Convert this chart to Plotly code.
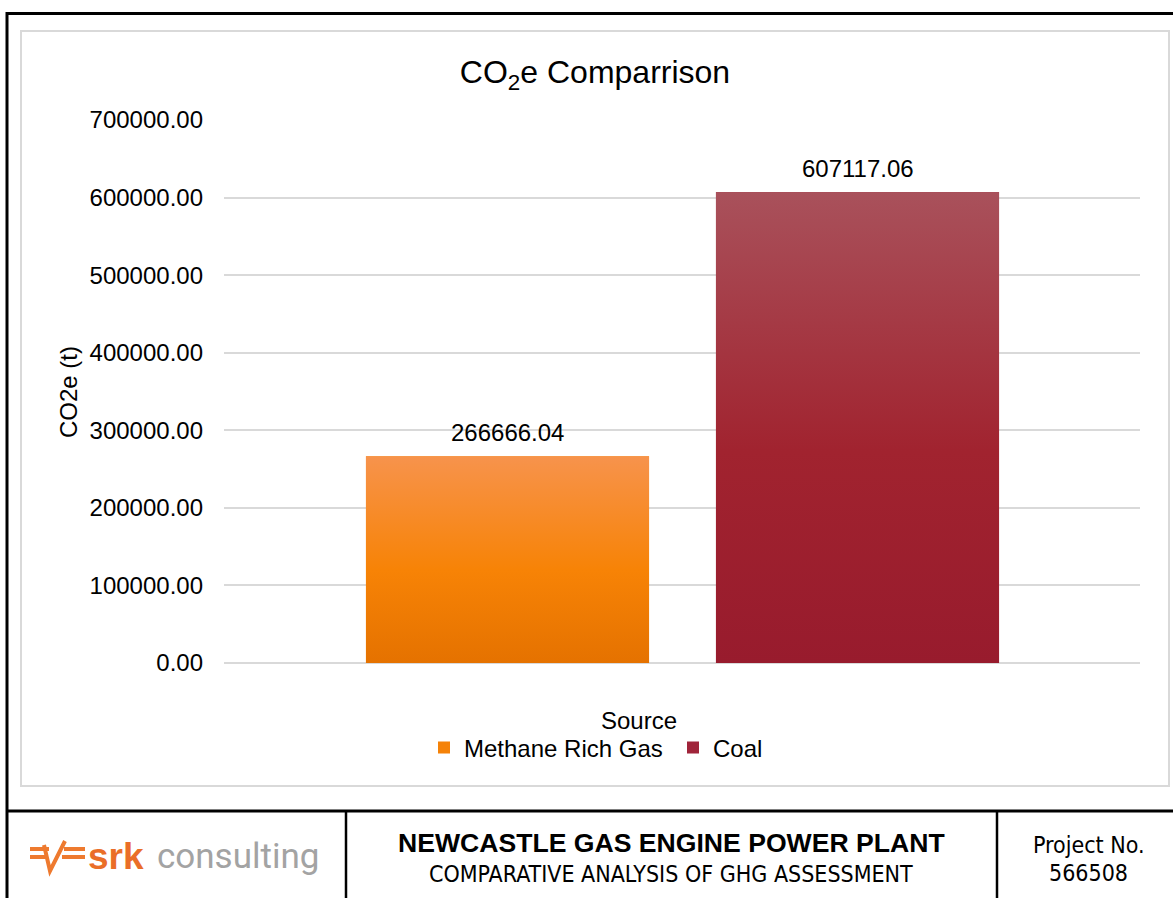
import base64
import plotly.graph_objects as go

# ---------------- data ----------------
CATEGORIES = ["Methane Rich Gas", "Coal"]
VALUES = [266666.04, 607117.06]
BAR_COLORS = ["#F58208", "#A0243A"]
GRAD_STOPS = [
    ["#F7934C", "#F78306", "#E57200"],
    ["#A9515B", "#A1232F", "#981B2D"],
]
Y_TICKS = [0, 100000, 200000, 300000, 400000, 500000, 600000, 700000]
TITLE = "CO<sub>2</sub>e Comparrison"
Y_TITLE = "CO2e (t)"
X_TITLE = "Source"

# ---------------- geometry helpers ----------------
W, H = 1173, 898
ML, MR, MT, MB = 224, 33, 120, 235
PW, PH = W - ML - MR, H - MT - MB


def px(x):
    return (x - ML) / PW


def py(y):
    return (H - MB - y) / PH


FONT = "Liberation Sans, Arial, sans-serif"
COND = "DejaVu Sans Condensed, DejaVu Sans, sans-serif"
BAR_W = 0.809

fig = go.Figure()
xs = list(range(len(CATEGORIES)))
for i, (cat, val, col) in enumerate(zip(CATEGORIES, VALUES, BAR_COLORS)):
    fig.add_trace(go.Bar(
        x=[xs[i]], y=[val], name=cat, width=BAR_W,
        marker=dict(color=col, line=dict(width=0)),
        hovertemplate="%{y:.2f}<extra>" + cat + "</extra>",
    ))

# gradient overlays derived from the data values
images = []
for i, (val, stops) in enumerate(zip(VALUES, GRAD_STOPS)):
    svg = ("<svg xmlns='http://www.w3.org/2000/svg' width='10' height='100' viewBox='0 0 10 100' "
           "preserveAspectRatio='none'><defs><linearGradient id='g' x1='0' y1='0' x2='0' y2='1'>"
           f"<stop offset='0' stop-color='{stops[0]}'/><stop offset='0.55' stop-color='{stops[1]}'/>"
           f"<stop offset='1' stop-color='{stops[2]}'/></linearGradient></defs>"
           "<rect x='0' y='0' width='10' height='100' fill='url(#g)'/></svg>")
    uri = "data:image/svg+xml;base64," + base64.b64encode(svg.encode()).decode()
    images.append(dict(source=uri, xref="x", yref="y", x=xs[i] - BAR_W / 2, y=val,
                       sizex=BAR_W, sizey=val, xanchor="left", yanchor="top",
                       sizing="stretch", layer="above", opacity=1))

annotations = []
# data labels
for i, val in enumerate(VALUES):
    annotations.append(dict(x=xs[i], y=val, xref="x", yref="y", text=f"{val:.2f}",
                            showarrow=False, yanchor="bottom", yshift=8,
                            font=dict(family=FONT, size=24, color="#000000")))
# axis titles
annotations.append(dict(x=px(68), y=py(392), xref="paper", yref="paper", text=Y_TITLE,
                        textangle=-90, showarrow=False, xanchor="center", yanchor="middle",
                        font=dict(family=FONT, size=24, color="#000000")))
annotations.append(dict(x=px(639), y=py(720), xref="paper", yref="paper", text=X_TITLE,
                        showarrow=False, xanchor="center", yanchor="middle",
                        font=dict(family=FONT, size=24, color="#000000")))
# footer texts
annotations.append(dict(x=px(671), y=py(843), xref="paper", yref="paper",
                        text="<b>NEWCASTLE GAS ENGINE POWER PLANT</b>", showarrow=False,
                        xanchor="center", yanchor="middle",
                        font=dict(family=FONT, size=26.6, color="#000000")))
annotations.append(dict(x=px(671), y=py(874), xref="paper", yref="paper",
                        text="COMPARATIVE ANALYSIS OF GHG ASSESSMENT", showarrow=False,
                        xanchor="center", yanchor="middle",
                        font=dict(family=COND, size=23, color="#000000")))
annotations.append(dict(x=px(1089), y=py(845), xref="paper", yref="paper",
                        text="Project No.", showarrow=False, xanchor="center", yanchor="middle",
                        font=dict(family=COND, size=23, color="#000000")))
annotations.append(dict(x=px(1088), y=py(873), xref="paper", yref="paper",
                        text="566508", showarrow=False, xanchor="center", yanchor="middle",
                        font=dict(family=COND, size=23, color="#000000")))
annotations.append(dict(x=px(86), y=py(856), xref="paper", yref="paper",
                        text="<b>srk</b>",
                        showarrow=False, xanchor="left", yanchor="middle",
                        font=dict(family="Liberation Sans, Arial, sans-serif", size=37,
                                  color="#EA6E28")))
annotations.append(dict(x=px(155), y=py(856), xref="paper", yref="paper",
                        text="consulting",
                        showarrow=False, xanchor="left", yanchor="middle",
                        font=dict(family="Roboto, Liberation Sans, sans-serif", size=35,
                                  color="#A3A3A3")))

shapes = []


def line(x0, y0, x1, y1, color, width):
    shapes.append(dict(type="line", xref="paper", yref="paper", x0=px(x0), y0=py(y0),
                       x1=px(x1), y1=py(y1), line=dict(color=color, width=width), layer="above"))


# chart area border (light gray)
shapes.append(dict(type="rect", xref="paper", yref="paper", x0=px(21), y0=py(786), x1=px(1169),
                   y1=py(31), line=dict(color="#D9D9D9", width=2), fillcolor="rgba(0,0,0,0)",
                   layer="below"))
# page frame (black)
line(7, 13.5, 1180, 13.5, "#000000", 3)
line(7, 12, 7, 905, "#000000", 3)
line(7, 811, 1180, 811, "#000000", 3)
line(346, 811, 346, 905, "#000000", 2.5)
line(997, 811, 997, 905, "#000000", 2.5)
# logo glyph
OR = "#EE7A2F"
line(30, 849, 49, 849, OR, 4)
line(30, 857, 47, 857, OR, 4)
line(64, 849, 85, 849, OR, 4)
line(62, 857, 85, 857, OR, 4)
shapes.append(dict(type="path", xref="paper", yref="paper",
                   path=f"M {px(44)},{py(845)} L {px(50)},{py(871)} L {px(65)},{py(841)}",
                   line=dict(color=OR, width=4), layer="above"))

fig.update_layout(
    width=W, height=H,
    margin=dict(l=ML, r=MR, t=MT, b=MB, autoexpand=False),
    paper_bgcolor="#FFFFFF", plot_bgcolor="#FFFFFF",
    barmode="overlay",
    title=dict(text=TITLE, x=px(595), xref="paper", xanchor="center",
               y=1 - 72 / H, yref="container", yanchor="middle",
               font=dict(family=FONT, size=32, color="#000000")),
    xaxis=dict(range=[-0.81, -0.81 + PW / 350.0], showticklabels=False, showgrid=False,
               zeroline=False, showline=False, ticks="", fixedrange=True),
    yaxis=dict(range=[0, 700000], tickvals=Y_TICKS, tickformat=".2f",
               showgrid=True, gridcolor="#D9D9D9", gridwidth=1.5,
               zeroline=True, zerolinecolor="#D9D9D9", zerolinewidth=1.5,
               showline=False, ticks="", ticklabelstandoff=20,
               tickfont=dict(family=FONT, size=24, color="#000000")),
    showlegend=True,
    legend=dict(orientation="h", x=px(424), xanchor="left", y=py(748), yanchor="middle",
                entrywidth=204, entrywidthmode="pixels",
                font=dict(family=FONT, size=24, color="#000000"),
                bgcolor="rgba(0,0,0,0)", itemclick=False, itemdoubleclick=False),
    annotations=annotations,
    shapes=shapes,
    images=images,
)

fig.write_html("out.html", config={"displayModeBar": False},
               post_script="document.body.style.margin='0px';")
